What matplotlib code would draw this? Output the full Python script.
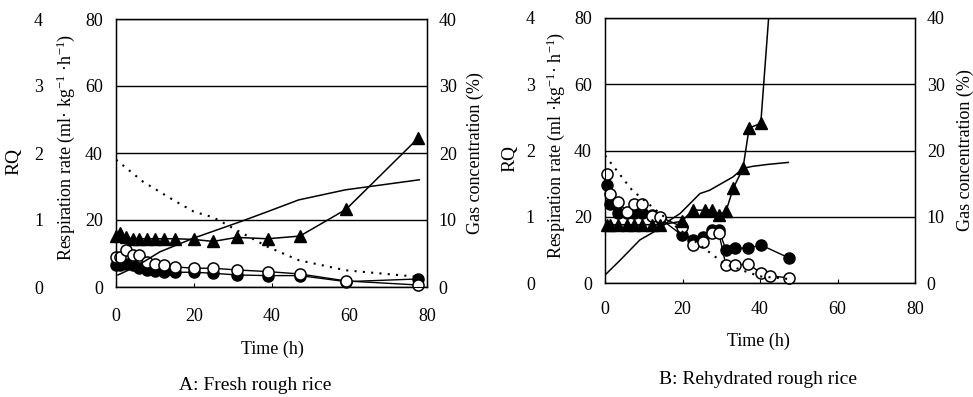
import matplotlib
matplotlib.use("Agg")
import matplotlib.pyplot as plt

plt.rcParams['font.family'] = 'Liberation Serif'
plt.rcParams['mathtext.fontset'] = 'custom'
plt.rcParams['mathtext.rm'] = 'Liberation Serif'
plt.rcParams['mathtext.it'] = 'Liberation Serif:italic'

# ---- A: fresh rough rice ----
time_a = [0, 1, 2.5, 4.3, 6, 8, 10, 12.3, 15.3, 20, 25, 31, 39, 47.3, 59.2, 77.7]
o2_uptake_a = [9, 9, 11, 9.5, 9.5, 7.5, 7, 6.6, 6, 5.6, 5.6, 5.1, 4.6, 3.9, 1.8, 0.6]
co2_evol_a = [6.6, 6.6, 7, 6.5, 5.6, 5, 4.9, 4.6, 4.4, 4.4, 4.1, 3.6, 3.4, 3.4, 1.6, 2.4]
rq_a = [0.76, 0.8, 0.74, 0.72, 0.72, 0.72, 0.72, 0.72, 0.72, 0.71, 0.68, 0.74, 0.72, 0.76, 1.16, 2.22]

co2_time_a = [0.5, 5, 11.3, 20, 32, 39, 47, 59, 78]
co2_conc_a = [1.8, 3.0, 5.25, 7.3, 9.75, 11.25, 13, 14.5, 16]
o2_time_a = [0, 7, 14.7, 20, 25, 31, 39, 47, 59, 78]
o2_conc_a = [19, 15.7, 13, 11.25, 10.4, 8.5, 6, 4, 2.5, 1.5]

# ---- B: rehydrated rough rice ----
time_b = [0.5, 1.3, 3.4, 5.6, 7.6, 9.6, 12, 14.2, 19.8, 22.6, 25.4, 27.5, 29.4, 31.2, 33.6, 37, 40.2, 42.6, 47.6]
o2_uptake_b = [33, 27, 24.5, 21.5, 23.8, 23.8, 20.3, 20, 17, 11.5, 12.5, 15, 15, 5.4, 5.4, 5.8, 3, 2.2, 1.5]
time_b_co2 = [0.5, 1.3, 3.4, 5.6, 7.6, 9.6, 12, 14.2, 19.8, 22.6, 25.4, 27.5, 29.4, 31.2, 33.6, 37, 40.2, 47.6]
co2_evol_b = [29.5, 24, 21, 21, 21, 21, 20.5, 19.5, 14.5, 13, 14, 16, 16, 10, 10.5, 10.5, 11.5, 7.5]
time_b_rq = [0.5, 1.3, 3.4, 5.6, 7.6, 9.6, 12, 14.2, 19.8, 22.6, 25.8, 27.5, 29.4, 31.2, 33.1, 35.6, 37.2, 40.2, 43.5]
rq_b = [0.88, 0.88, 0.88, 0.88, 0.88, 0.88, 0.88, 0.88, 0.93, 1.1, 1.1, 1.1, 1.03, 1.08, 1.43, 1.73, 2.34, 2.41, 5.0]

co2_time_b = [0, 4, 9, 14.2, 16.8, 19.4, 22.8, 24.5, 27, 30, 33, 35.6, 38, 42, 47.3]
co2_conc_b = [1.2, 3.5, 6.5, 8.25, 9.5, 10.5, 12.5, 13.5, 14, 15, 16, 17.3, 17.6, 17.9, 18.2]
o2_time_b = [0, 7, 14.2, 19.4, 25, 30.6, 35, 40, 47.6]
o2_conc_b = [19.25, 14, 10.5, 8, 5.5, 3, 2, 1, 0.6]

xticks = [0, 20, 40, 60, 80]
resp_ticks = [0, 20, 40, 60, 80]
gas_ticks = [0, 10, 20, 30, 40]
rq_ticks = [0, 1, 2, 3, 4]

FS = 13


def panel(ax, t_o2u, o2u, t_co2e, co2e, t_rq, rq, t_c, c_conc, t_o, o_conc,
          resp_label, rq_out, rq_lab_x, resp_lab_x, gas_lab_x, xpad):
    ax.set_xlim(0, 80)
    ax.set_ylim(0, 80)
    ax.set_xticks(xticks)
    ax.set_yticks(resp_ticks)
    ax.yaxis.grid(True, color='black', lw=1)
    ax.tick_params(axis='y', length=0, pad=9.4, labelsize=FS)
    ax.tick_params(axis='x', direction='in', length=3, pad=xpad, labelsize=FS)
    for s in ax.spines.values():
        s.set_linewidth(1)

    ax.plot(t_co2e, co2e, '-o', color='black', mfc='black', ms=8, lw=1,
            clip_on=False, zorder=3)
    ax.plot(t_o2u, o2u, '-o', color='black', mfc='white', mec='black', ms=8,
            mew=1.1, lw=1, clip_on=False, zorder=4)
    ax.set_ylabel(resp_label, fontsize=FS)
    ax.yaxis.set_label_coords(resp_lab_x, 0.52)

    gas = ax.twinx()
    gas.set_ylim(0, 40)
    gas.set_yticks(gas_ticks)
    gas.tick_params(axis='y', length=0, pad=8.5, labelsize=FS)
    gas.plot(t_c, c_conc, '-', color='black', lw=1.1)
    gas.plot(t_o, o_conc, linestyle=(0, (1, 3)), color='black', lw=1.5)
    gas.set_ylabel('Gas concentration (%)', fontsize=FS)
    gas.yaxis.set_label_coords(gas_lab_x, 0.50)

    r = ax.twinx()
    r.set_ylim(0, 4)
    r.set_yticks(rq_ticks)
    r.yaxis.set_ticks_position('left')
    r.yaxis.set_label_position('left')
    r.spines['left'].set_position(('outward', rq_out))
    for s in r.spines.values():
        s.set_visible(False)
    r.tick_params(axis='y', length=0, pad=2.5, labelsize=FS)
    r.plot(t_rq, rq, '-', color='black', lw=1.1)
    inside_t = [t for t, v in zip(t_rq, rq) if v <= 4]
    inside_v = [v for v in rq if v <= 4]
    r.plot(inside_t, inside_v, '^', color='black', ms=9, clip_on=False, zorder=5)
    r.set_ylabel('RQ', fontsize=14)
    r.yaxis.set_label_coords(rq_lab_x, 0.47)


fig = plt.figure(figsize=(9.73, 3.97), dpi=100)
axA = fig.add_axes([116 / 973, 110 / 397, 311 / 973, 268 / 397])
axB = fig.add_axes([605 / 973, 114 / 397, 310 / 973, 265 / 397])

panel(axA, time_a, o2_uptake_a, time_a, co2_evol_a, time_a, rq_a,
      co2_time_a, co2_conc_a, o2_time_a, o2_conc_a,
      'Respiration rate (ml· kg$^{-1}$ ·h$^{-1}$)', 50, -0.30, -0.125, 1.129, 15)
panel(axB, time_b, o2_uptake_b, time_b_co2, co2_evol_b, time_b_rq, rq_b,
      co2_time_b, co2_conc_b, o2_time_b, o2_conc_b,
      'Respiration rate (ml ·kg$^{-1}$· h$^{-1}$)', 48, -0.28, -0.123, 1.135, 13)

fig.text(272 / 973, 0.108, 'Time (h)', ha='center', va='baseline', fontsize=FS)
fig.text(758 / 973, 0.128, 'Time (h)', ha='center', va='baseline', fontsize=FS)
fig.text(255 / 973, 0.017, 'A: Fresh rough rice', ha='center', va='baseline', fontsize=14)
fig.text(758 / 973, 0.0315, 'B: Rehydrated rough rice', ha='center', va='baseline', fontsize=14)

fig.savefig('out.png', dpi=100)
